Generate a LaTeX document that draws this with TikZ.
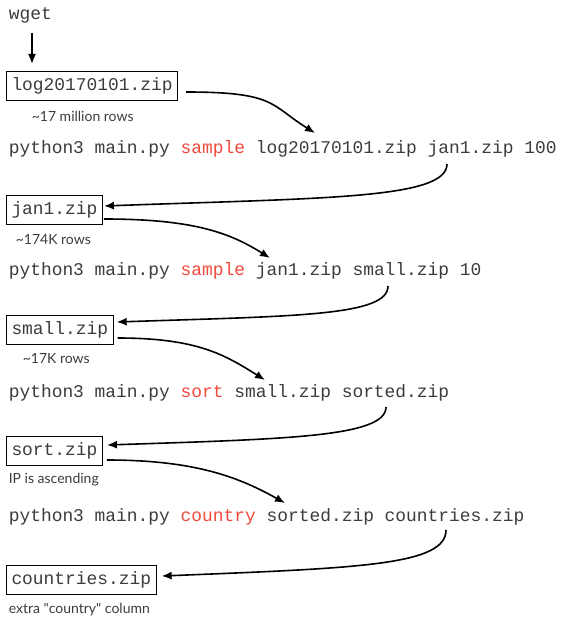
\documentclass[tikz,border=0pt]{standalone}
\usepackage{fontspec}
\setmonofont{Liberation Mono}
\setsansfont{Lato}
\usetikzlibrary{positioning, arrows.meta}
\definecolor{cmdred}{HTML}{F04A3C}
\definecolor{ink}{HTML}{3C3C3C}

\begin{document}
\begin{tikzpicture}[x=1pt, y=-1pt, >={Latex[length=10pt, width=8pt]}, line width=1.6pt,
    every node/.style={inner sep=0pt, text=ink},
    file/.style={draw=black, line width=1pt, font=\fontsize{17.9}{20}\ttfamily, inner xsep=5pt, minimum height=29pt, anchor=west},
    cmd/.style={font=\fontsize{17.9}{20}\ttfamily, anchor=west},
    note/.style={font=\fontsize{14}{16}\sffamily, anchor=west},
    flow/.style={->, draw=black}]

\useasboundingbox (0,0) rectangle (564,631);

% download
\node[cmd] (wget) at (8,15) {wget};
\node[file] (log) at (6,86) {log20170101.zip};
\node[note] (lognote) at (31,116) {\textasciitilde17 million rows};

% sample 100
\node[cmd] (c1) at (8,149) {python3 main.py \textcolor{cmdred}{sample} log20170101.zip jan1.zip 100};
\node[file] (jan1) at (6,210) {jan1.zip};
\node[note] (jan1note) at (15,240) {\textasciitilde174K rows};

% sample 10
\node[cmd] (c2) at (8,271) {python3 main.py \textcolor{cmdred}{sample} jan1.zip small.zip 10};
\node[file] (small) at (6,330) {small.zip};
\node[note] (smallnote) at (22,359) {\textasciitilde17K rows};

% sort
\node[cmd] (c3) at (8,393) {python3 main.py \textcolor{cmdred}{sort} small.zip sorted.zip};
\node[file] (sort) at (6,451) {sort.zip};
\node[note] (sortnote) at (8,480) {IP is ascending};

% country
\node[cmd] (c4) at (8,517) {python3 main.py \textcolor{cmdred}{country} sorted.zip countries.zip};
\node[file] (countries) at (6,580) {countries.zip};
\node[note] (countriesnote) at (8,610) {extra \textquotedbl country\textquotedbl{} column};

% where the arrows touch the commands
\coordinate (c1in) at (315,133);
\coordinate (c1out) at (447,164);
\coordinate (c2in) at (270,258);
\coordinate (c2out) at (388,286);
\coordinate (c3in) at (265,380);
\coordinate (c3out) at (386,407);
\coordinate (c4in) at (285,503);
\coordinate (c4out) at (446,530);

\draw[flow] ([xshift=24pt, yshift=-9pt]wget.south west) -- ([xshift=26pt, yshift=7pt]log.north west);

\draw[flow] ([xshift=8pt, yshift=-6pt]log.east) .. controls +(90,0) and +(-45,-28) .. (c1in);
\draw[flow] (c1out) .. controls +(0,35) and +(220,-8) .. ([xshift=1pt, yshift=4pt]jan1.east);

\draw[flow] ([xshift=1pt, yshift=-9pt]jan1.east) .. controls +(90,0) and +(-40,-25) .. (c2in);
\draw[flow] (c2out) .. controls +(0,30) and +(180,-6) .. ([xshift=3pt, yshift=8pt]small.east);

\draw[flow] ([xshift=4pt, yshift=-8pt]small.east) .. controls +(80,0) and +(-40,-25) .. (c3in);
\draw[flow] (c3out) .. controls +(0,30) and +(180,-6) .. ([xshift=4pt, yshift=6pt]sort.east);

\draw[flow] ([xshift=4pt, yshift=-9pt]sort.east) .. controls +(90,0) and +(-45,-25) .. (c4in);
\draw[flow] (c4out) .. controls +(0,35) and +(200,-8) .. ([xshift=5pt, yshift=4pt]countries.east);

\end{tikzpicture}
\end{document}
